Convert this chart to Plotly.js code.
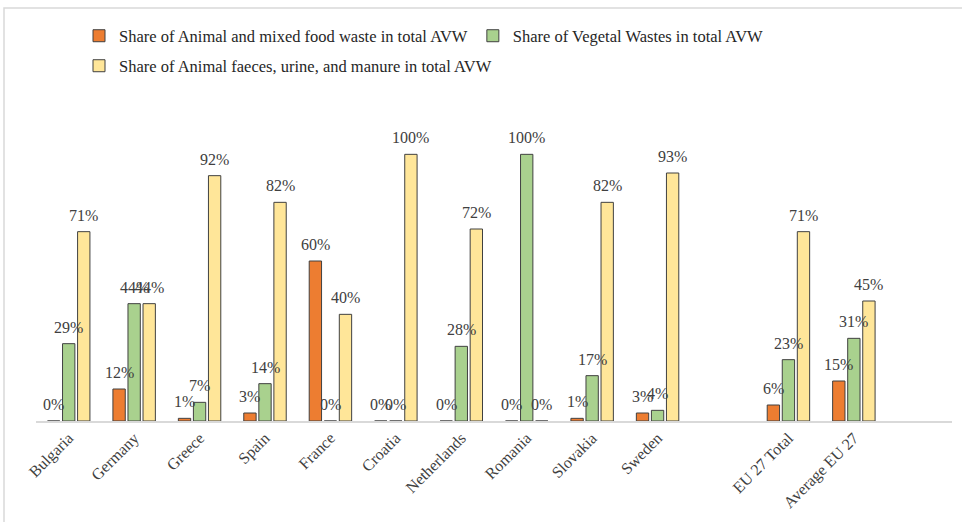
<!DOCTYPE html>
<html><head><meta charset="utf-8">
<script src="https://cdn.plot.ly/plotly-3.0.1.min.js"></script>
<style>html,body{margin:0;padding:0;background:#fff}</style>
</head><body><div id="chart" style="width:962px;height:522px"></div>
<script>
const categories = ['Bulgaria','Germany','Greece','Spain','France','Croatia','Netherlands','Romania','Slovakia','Sweden',' ','EU 27 Total','Average EU 27','  '];
const animalFood = [0,12,1,3,60,0,0,0,1,3,null,6,15,null];
const vegetal = [29,44,7,14,0,0,28,100,17,4,null,23,31,null];
const manure = [71,44,92,82,40,100,72,0,82,93,null,71,45,null];
const seriesNames = [
  'Share of Animal and mixed food waste in total AVW',
  'Share of Vegetal Wastes in total AVW',
  'Share of Animal faeces, urine, and manure in total AVW'
];
const colors = ['#ED7D31','#A9D18E','#FFE699'];
const serif = '"Liberation Serif", "Times New Roman", serif';

const series = [animalFood, vegetal, manure];
const bargap = 0.31, bargroupgap = 0.18;

const traces = series.map((vals, i) => ({
  type: 'bar',
  name: seriesNames[i],
  x: categories,
  y: vals,
  marker: {color: colors[i], line: {color: '#404040', width: 1}},
  legend: i === 2 ? 'legend2' : 'legend',
  hoverinfo: 'x+y+name'
}));

// value labels above each bar, positioned through the category axis scale
const slot = (1 - bargap) / series.length;
const annotations = [];
series.forEach((vals, i) => {
  vals.forEach((v, j) => {
    if (v == null) return;
    annotations.push({
      xref: 'x', yref: 'y',
      x: j + (i - (series.length - 1) / 2) * slot,
      y: v,
      text: v + '%',
      showarrow: false,
      yanchor: 'bottom', xanchor: 'center',
      yshift: 6,
      font: {family: serif, size: 16, color: '#404040'}
    });
  });
});

// plot area: x 36..952 px, y 101..421 px
const L = 36, W = 916, T = 101, H = 320;
const px = x => (x - L) / W;
const py = y => (T + H - y) / H;

const legendFont = {family: serif, size: 16.5, color: '#262626'};
const layout = {
  width: 962, height: 522,
  margin: {l: L, r: 962 - L - W, t: T, b: 522 - T - H},
  paper_bgcolor: '#fff', plot_bgcolor: '#fff',
  font: {family: serif},
  barmode: 'group', bargap: bargap, bargroupgap: bargroupgap,
  showlegend: true,
  legend: {orientation: 'h', x: px(79), xanchor: 'left', y: py(36), yanchor: 'middle',
           font: legendFont, bgcolor: 'rgba(0,0,0,0)'},
  legend2: {orientation: 'h', x: px(79), xanchor: 'left', y: py(66), yanchor: 'middle',
           font: legendFont, bgcolor: 'rgba(0,0,0,0)'},
  xaxis: {type: 'category', range: [-0.5, categories.length - 0.5], showline: true, linecolor: '#d9d9d9', linewidth: 1.5,
          ticks: '', tickangle: -45, showgrid: false, zeroline: false,
          tickfont: {family: serif, size: 16, color: '#404040'}},
  yaxis: {range: [0, 120], visible: false, showgrid: false, zeroline: false},
  annotations: annotations,
  shapes: [{type: 'rect', xref: 'paper', yref: 'paper', x0: px(4), x1: px(975), y0: py(535), y1: py(8),
            line: {color: '#d9d9d9', width: 1.5}, fillcolor: 'rgba(0,0,0,0)', layer: 'below'}]
};

Plotly.newPlot('chart', traces, layout, {displayModeBar: false, staticPlot: true});
</script></body></html>
